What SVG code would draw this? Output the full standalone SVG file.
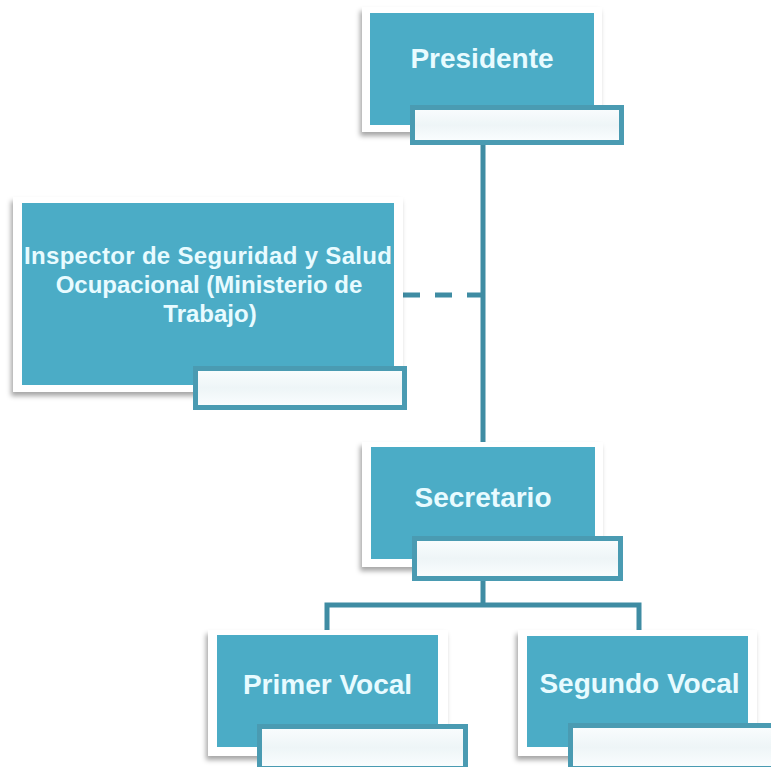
<svg xmlns="http://www.w3.org/2000/svg" width="771" height="767" viewBox="0 0 771 767">
<defs>
<filter id="sh" x="-10%" y="-10%" width="125%" height="135%">
<feDropShadow dx="-2" dy="4" stdDeviation="2.5" flood-color="#000" flood-opacity="0.35"/>
</filter>
<linearGradient id="subg" x1="0" y1="0" x2="0" y2="1">
<stop offset="0" stop-color="#FAFDFE"/>
<stop offset="0.5" stop-color="#EEF5F7"/>
<stop offset="1" stop-color="#FBFEFF"/>
</linearGradient>
<style>
.card{fill:#FFFFFF;filter:url(#sh)}
.blue{fill:#4BACC6}
.sub{fill:url(#subg);stroke:#4A9BB2;stroke-width:5}
.lbl{font-family:"Liberation Sans",Arial,sans-serif;font-weight:bold;fill:#E8FBFF;text-anchor:middle}
.big{font-size:28px}
.mid{font-size:24px}
.con{fill:none;stroke:#3F8CA3;stroke-width:5}
.dash{stroke-dasharray:17 15}
</style>
</defs>
<rect width="771" height="767" fill="#FFFFFF"/>

<g id="connectors">
<path class="con" d="M483,145 V443"/>
<path class="con dash" d="M403,295 H483"/>
<path class="con" d="M483,581 V605"/>
<path class="con" d="M327,630 V605 H639 V630"/>
</g>

<g id="presidente">
<rect class="card" x="362" y="7" width="240" height="125"/>
<rect class="blue" x="370" y="13" width="224" height="112"/>
<rect class="sub" x="412.5" y="107.5" width="209" height="35"/>
<text class="lbl big" x="482" y="68">Presidente</text>
</g>

<g id="inspector">
<rect class="card" x="13" y="197" width="390" height="195"/>
<rect class="blue" x="22" y="203" width="372" height="182"/>
<rect class="sub" x="195.5" y="368.5" width="209" height="39"/>
<text class="lbl mid" x="208" y="264" textLength="368" lengthAdjust="spacing">Inspector de Seguridad y Salud</text>
<text class="lbl mid" x="209" y="293">Ocupacional (Ministerio de</text>
<text class="lbl mid" x="210" y="322">Trabajo)</text>
</g>

<g id="secretario">
<rect class="card" x="362" y="442" width="241" height="125"/>
<rect class="blue" x="371" y="447" width="224" height="112"/>
<rect class="sub" x="414.5" y="538.5" width="206" height="40"/>
<text class="lbl big" x="483" y="507">Secretario</text>
</g>

<g id="primer-vocal">
<rect class="card" x="208" y="630" width="240" height="126"/>
<rect class="blue" x="217" y="635" width="221" height="112"/>
<rect class="sub" x="259.5" y="726.5" width="206" height="42"/>
<text class="lbl big" x="327.5" y="694">Primer Vocal</text>
</g>

<g id="segundo-vocal">
<rect class="card" x="518" y="630" width="239" height="126"/>
<rect class="blue" x="527" y="636" width="221" height="111"/>
<rect class="sub" x="570.5" y="725.5" width="210" height="43"/>
<text class="lbl big" x="639.5" y="693">Segundo Vocal</text>
</g>
</svg>
